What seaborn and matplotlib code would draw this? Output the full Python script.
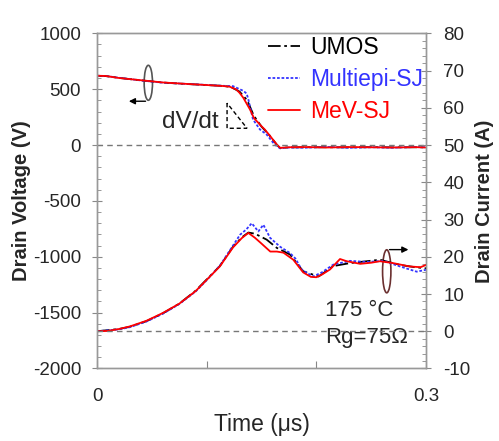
import matplotlib
matplotlib.use('Agg')
import pandas as pd
import matplotlib.pyplot as plt
import seaborn as sns
from matplotlib.patches import Ellipse, Polygon

# drain voltage traces (time in us, voltage in V)
v_t_umos = [0, 0.008, 0.02, 0.04, 0.06, 0.08, 0.1, 0.115, 0.122, 0.13, 0.137, 0.143, 0.15, 0.157, 0.164, 0.167, 0.175, 0.19, 0.21, 0.23, 0.25, 0.27, 0.29, 0.3]
v_umos = [620, 617, 601, 579, 559, 547, 537, 529, 520, 478, 400, 262, 165, 90, 2, -28, -21, -20, -20, -21, -19, -21, -20, -21]
v_t_multi = [0, 0.008, 0.02, 0.04, 0.06, 0.08, 0.1, 0.115, 0.124, 0.1334, 0.1365, 0.138, 0.1423, 0.1486, 0.1547, 0.162, 0.167, 0.175, 0.19, 0.21, 0.23, 0.25, 0.27, 0.29, 0.3]
v_multi = [620, 618, 602, 578, 558, 548, 538, 530, 527, 485, 460, 407, 228, 139, 94, 4, -30, -22, -24, -17, -25, -20, -24, -18, -20]
v_t_mev = [0, 0.008, 0.02, 0.04, 0.06, 0.08, 0.1, 0.115, 0.121, 0.127, 0.130, 0.1334, 0.1395, 0.1432, 0.150, 0.153, 0.158, 0.164, 0.167, 0.175, 0.19, 0.21, 0.23, 0.25, 0.27, 0.29, 0.3]
v_mev = [620, 618, 600, 580, 560, 548, 537, 528, 522, 497, 467, 423, 318, 240, 168, 139, 79, 4, -25, -20, -18, -22, -18, -20, -22, -19, -22]

# drain current traces (time in us, current in A)
i_t_umos = [0, 0.02, 0.03, 0.045, 0.06, 0.075, 0.09, 0.1, 0.112, 0.124, 0.132, 0.138, 0.144, 0.1547, 0.1639, 0.176, 0.188, 0.202, 0.2155, 0.2307, 0.258, 0.2763, 0.29, 0.3]
i_umos = [0, 0.6, 1.2, 2.7, 4.8, 7.4, 10.9, 13.9, 17.5, 22.7, 25.2, 26.5, 26.2, 24.6, 22.4, 20.6, 16.1, 14.7, 17.5, 18.3, 19.2, 17.8, 17.2, 16.9]
i_t_multi = [0, 0.02, 0.03, 0.045, 0.06, 0.075, 0.09, 0.1, 0.112, 0.124, 0.1304, 0.136, 0.1411, 0.1471, 0.1517, 0.1578, 0.1669, 0.176, 0.181, 0.1867, 0.197, 0.205, 0.2155, 0.2307, 0.246, 0.261, 0.2763, 0.2915, 0.3]
i_multi = [0, 0.5, 1.1, 2.6, 4.7, 7.3, 10.7, 13.7, 17.6, 23.0, 25.9, 27.3, 29.0, 26.8, 28.6, 25.1, 22.7, 21.0, 19.5, 16.5, 14.7, 15.8, 17.9, 18.9, 18.6, 18.9, 17.4, 16.0, 16.5]
i_t_mev = [0, 0.01, 0.02, 0.03, 0.045, 0.06, 0.075, 0.09, 0.1, 0.112, 0.124, 0.132, 0.138, 0.144, 0.149, 0.158, 0.164, 0.170, 0.179, 0.188, 0.195, 0.2, 0.205, 0.2125, 0.2216, 0.2277, 0.24, 0.25, 0.258, 0.27, 0.285, 0.295, 0.3]
i_mev = [0, 0.1, 0.6, 1.3, 2.8, 4.9, 7.4, 10.8, 13.8, 17.4, 22.5, 25.0, 26.4, 25.1, 23.8, 21.4, 21.4, 21.1, 19.2, 15.8, 14.6, 14.5, 15.2, 16.6, 19.4, 18.8, 18.1, 18.4, 18.8, 18.3, 17.4, 17.2, 17.8]

labels = ['UMOS', 'Multiepi-SJ', 'MeV-SJ']
colors = ['black', '#3333ff', '#ff0000']
styles = [(0, (7, 2, 1.5, 2)), (0, (1.5, 1)), '-']

sns.set_style('white')
plt.rcParams['font.family'] = ['Liberation Sans', 'DejaVu Sans']
plt.rcParams['axes.unicode_minus'] = False

fig = plt.figure(figsize=(4.99, 4.41), dpi=100)
ax = fig.add_axes([0.1944, 0.1644, 0.6593, 0.7601])
ax2 = ax.twinx()

v_sets = [(v_t_umos, v_umos), (v_t_multi, v_multi), (v_t_mev, v_mev)]
i_sets = [(i_t_umos, i_umos), (i_t_multi, i_multi), (i_t_mev, i_mev)]
for k in range(3):
    sns.lineplot(x=v_sets[k][0], y=v_sets[k][1], ax=ax, color=colors[k], linestyle=styles[k], lw=1.3, label=labels[k])
    sns.lineplot(x=i_sets[k][0], y=i_sets[k][1], ax=ax2, color=colors[k], linestyle=styles[k], lw=1.3, legend=False)

ax.axhline(0, color='#777777', ls=(0, (4, 3)), lw=1)
ax2.axhline(0, color='#777777', ls=(0, (4, 3)), lw=1)

ax.set_xlim(0, 0.3)
ax.set_ylim(-2000, 1000)
ax2.set_ylim(-10, 80)
ax.set_xticks([0, 0.1, 0.2, 0.3])
ax.set_xticklabels(['0', '', '', '0.3'])
ax.set_yticks(range(-2000, 1001, 500))
ax.set_yticks(range(-2000, 1001, 100), minor=True)
ax2.set_yticks(range(-10, 81, 10))
ax2.set_yticks(range(-10, 81, 2), minor=True)

for a in (ax, ax2):
    for s in a.spines.values():
        s.set_color('#999999')
        s.set_linewidth(1)
ax.tick_params(axis='y', which='major', direction='inout', length=7, color='#888888', labelsize=13.5, pad=8, left=True)
ax.tick_params(axis='y', which='minor', direction='in', length=3, color='#888888', left=True)
ax.tick_params(axis='x', which='major', direction='in', length=5, color='#888888', labelsize=13.5, pad=14, bottom=True)
ax2.tick_params(axis='y', which='major', direction='inout', length=7, color='#888888', labelsize=13.5, pad=9, right=True)
ax2.tick_params(axis='y', which='minor', direction='in', length=3, color='#888888', right=True)

ax.set_xlabel('Time (\u03bcs)', fontsize=16.5, labelpad=6)
ax.set_ylabel('Drain Voltage (V)', fontsize=14.5, fontweight='bold', labelpad=1)
ax2.set_ylabel('Drain Current (A)', fontsize=14.5, fontweight='bold', labelpad=3)

ax.legend(loc='upper right', bbox_to_anchor=(1.04, 1.04), frameon=False, fontsize=16.5,
          labelcolor='linecolor', handlelength=1.4, handletextpad=0.45, labelspacing=0.4, borderpad=0.2)

# annotations
ax.text(0.059, 205, 'dV/dt', fontsize=17.5, ha='left', va='center')
ax.add_patch(Polygon([[0.1186, 375], [0.1186, 150], [0.1368, 150]], closed=True, fill=False,
                     ec='black', ls=(0, (3, 2)), lw=1))
ax.add_patch(Ellipse((0.0468, 557), 0.0076, 313, fill=False, ec='#555555', lw=1.2))
ax.annotate('', xy=(0.0265, 392), xytext=(0.0468, 392),
            arrowprops=dict(arrowstyle='-|>', color='black', lw=1, mutation_scale=9))
ax.add_patch(Ellipse((0.2642, -1130), 0.0076, 385, fill=False, ec='#6b3030', lw=1.2))
ax.annotate('', xy=(0.2865, -936), xytext=(0.2642, -936),
            arrowprops=dict(arrowstyle='-|>', color='black', lw=1, mutation_scale=9))
ax.text(0.2082, -1480, '175 \u00b0C', fontsize=16, ha='left', va='center')
ax.text(0.2082, -1720, 'Rg=75\u03a9', fontsize=16, ha='left', va='center',
        bbox=dict(facecolor='white', edgecolor='none', pad=1))

fig.savefig('out.png', dpi=100)
